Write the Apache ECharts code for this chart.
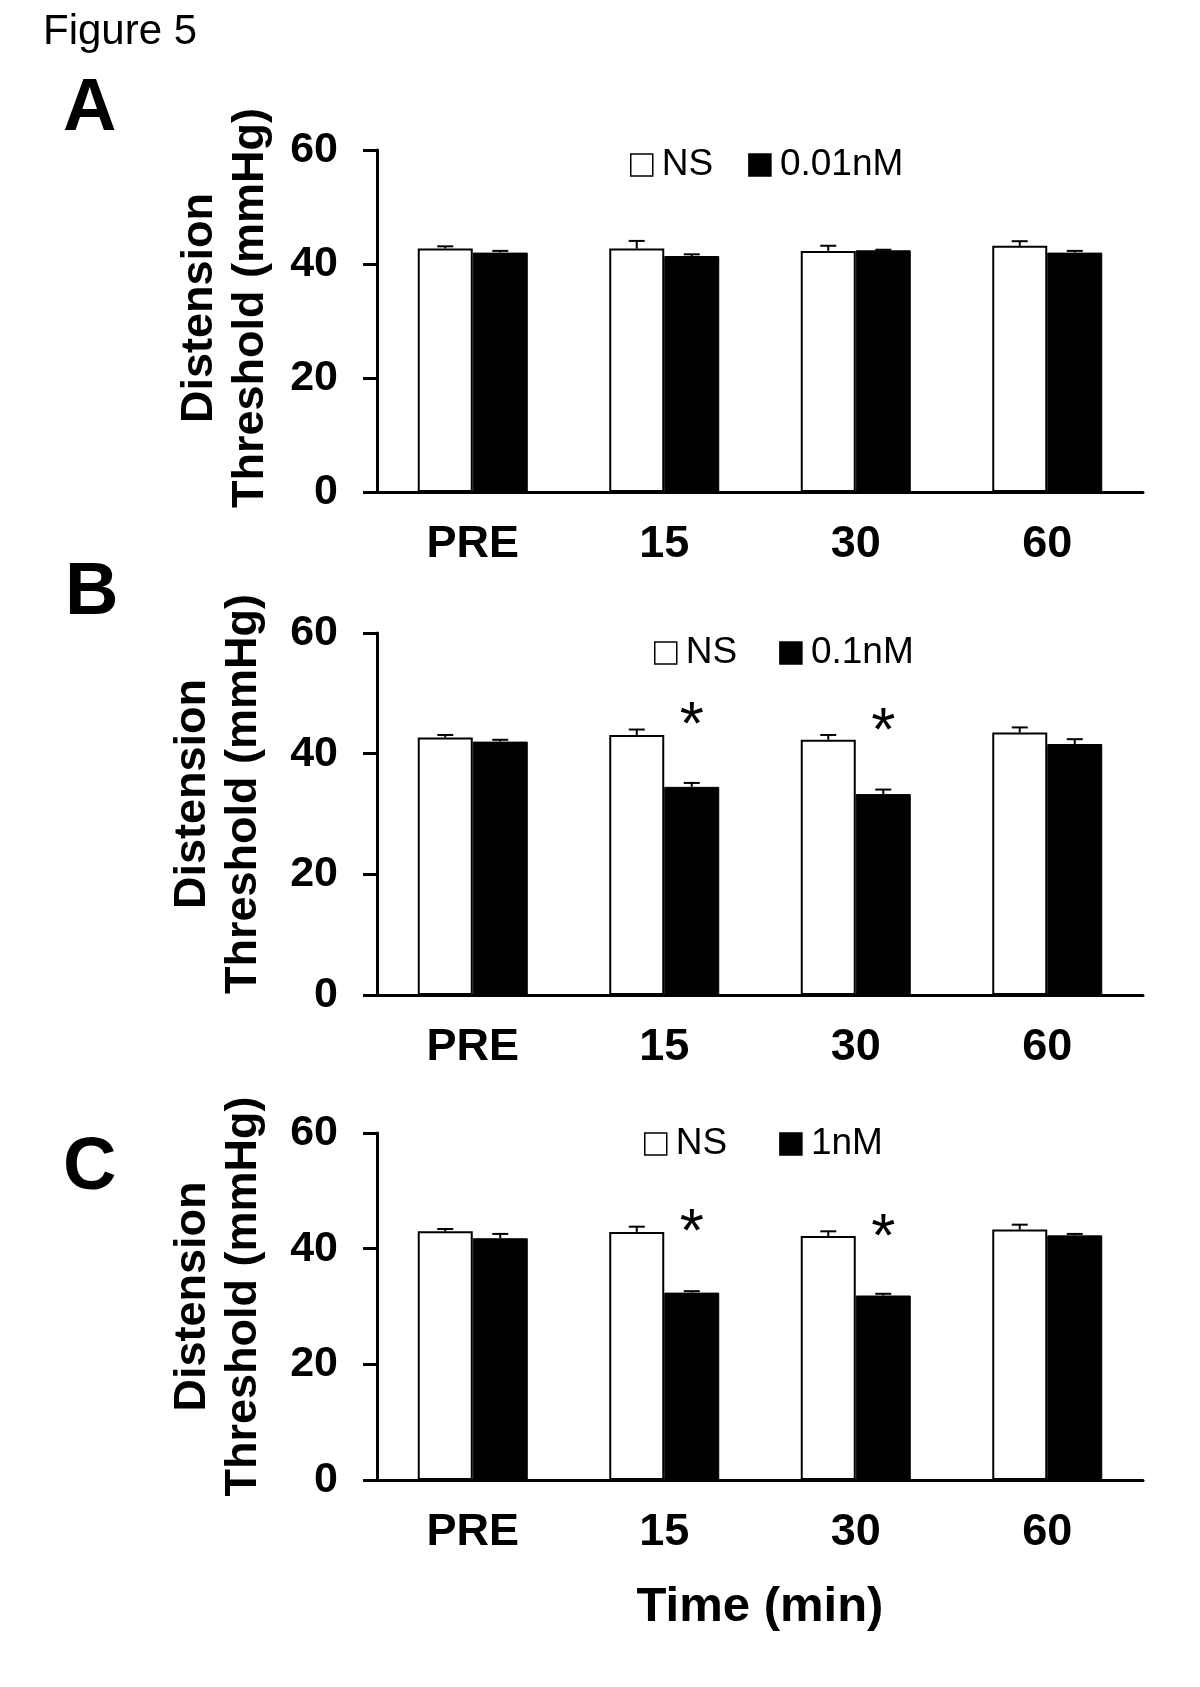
<!DOCTYPE html>
<html>
<head>
<meta charset="utf-8">
<title>Figure 5</title>
<script src="https://cdn.jsdelivr.net/npm/echarts@6/dist/echarts.min.js"></script>
<style>
html, body { margin: 0; padding: 0; background: #fff; }
#chart { width: 1200px; height: 1687px; }
</style>
</head>
<body>
<div id="chart"></div>
<script>
// data (mmHg)
var categories = ['PRE', '15', '30', '60'];
var yTicks = [0, 20, 40, 60];
var panelLetters = ['A', 'B', 'C'];
var controlName = 'NS';
var drugNames = ['0.01nM', '0.1nM', '1nM'];

var nsA = [42.7, 42.7, 42.3, 43.2];
var nsAErr = [0.4, 1.35, 0.9, 0.8];
var drugA = [42.0, 41.4, 42.4, 42.0];
var drugAErr = [0.3, 0.3, 0.1, 0.3];

var nsB = [42.7, 43.1, 42.3, 43.5];
var nsBErr = [0.4, 0.9, 0.8, 0.85];
var drugB = [42.0, 34.5, 33.3, 41.6];
var drugBErr = [0.3, 0.65, 0.75, 0.8];

var nsC = [43.0, 42.9, 42.2, 43.3];
var nsCErr = [0.4, 0.9, 0.8, 0.85];
var drugC = [41.8, 32.4, 31.9, 42.3];
var drugCErr = [0.75, 0.25, 0.3, 0.25];

// significance marks over the drug bar: [category index, height of the * in mmHg]
var starsA = [];
var starsB = [[1, 46.4], [2, 45.4]];
var starsC = [[1, 44.7], [2, 43.8]];

var panels = [
    {ns: nsA, nsErr: nsAErr, drug: drugA, drugErr: drugAErr, stars: starsA},
    {ns: nsB, nsErr: nsBErr, drug: drugB, drugErr: drugBErr, stars: starsB},
    {ns: nsC, nsErr: nsCErr, drug: drugC, drugErr: drugCErr, stars: starsC}
];

// layout (pixels)
var FONT = '"Liberation Sans", Arial, sans-serif';
var gridTops = [150, 633, 1133];
var gridHeights = [342, 362, 347];
var nameGaps = [101, 108, 108];
var nameShift = [26, 40, 20];      // pushes the rotated axis title upward
var legendLefts = [630, 654, 644];
var legendGaps = [35, 42, 52];
var legendCenters = [165, 653, 1144];
var letterPos = [[63, 110], [65, 594], [63, 1169]];
var BAR_W = 55;

var chart = echarts.init(document.getElementById('chart'));

function errorBarItem(side) {
    return function (params, api) {
        var idx = api.value(0);
        var top = api.coord([idx, api.value(1) + api.value(2)]);
        var base = api.coord([idx, api.value(1)]);
        var x = base[0] + side * BAR_W / 2;
        var style = {stroke: '#000', lineWidth: 2};
        return {
            type: 'group',
            children: [
                {type: 'line', shape: {x1: x, y1: base[1], x2: x, y2: top[1]}, style: style},
                {type: 'line', shape: {x1: x - 8, y1: top[1], x2: x + 8, y2: top[1]}, style: style}
            ]
        };
    };
}

function starItem(params, api) {
    var p = api.coord([api.value(0), api.value(1)]);
    return {
        type: 'text',
        x: p[0] + BAR_W / 2,
        y: p[1] + 12,
        style: {text: '*', font: '62px ' + FONT, fill: '#000', align: 'center', verticalAlign: 'middle'}
    };
}

var grids = [], xAxes = [], yAxes = [], series = [], legends = [], graphics = [];

graphics.push({
    type: 'text', left: 43, top: 11,
    style: {text: 'Figure 5', font: '42px ' + FONT, fill: '#000'}
});

panels.forEach(function (p, i) {
    grids.push({left: 377, right: 57, top: gridTops[i], height: gridHeights[i]});
    xAxes.push({
        type: 'category',
        gridIndex: i,
        data: categories,
        axisLine: {lineStyle: {color: '#000', width: 3}},
        axisTick: {show: false},
        axisLabel: {color: '#000', fontSize: 45, fontWeight: 'bold', fontFamily: FONT, margin: 30},
        name: i === 2 ? 'Time (min)' : '',
        nameLocation: 'middle',
        nameGap: 103,
        nameTextStyle: {color: '#000', fontSize: 49, fontWeight: 'bold', fontFamily: FONT}
    });
    yAxes.push({
        type: 'value',
        gridIndex: i,
        min: yTicks[0],
        max: yTicks[yTicks.length - 1],
        interval: yTicks[1] - yTicks[0],
        splitLine: {show: false},
        axisLine: {show: true, lineStyle: {color: '#000', width: 3}},
        axisTick: {show: true, length: 14, lineStyle: {color: '#000', width: 3}},
        axisLabel: {color: '#000', fontSize: 43, fontWeight: 'bold', fontFamily: FONT, margin: 39},
        name: 'Distension\nThreshold (mmHg)',
        nameLocation: 'middle',
        nameRotate: 90,
        nameGap: nameGaps[i],
        nameTextStyle: {
            color: '#000', fontSize: 45, fontWeight: 'bold', fontFamily: FONT,
            lineHeight: 51, padding: [0, 0, 0, nameShift[i]]
        }
    });

    series.push({
        name: controlName,
        type: 'bar',
        xAxisIndex: i, yAxisIndex: i,
        barWidth: BAR_W,
        barGap: '0%',
        itemStyle: {color: '#fff', borderColor: '#000', borderWidth: 2},
        data: p.ns
    });
    series.push({
        name: drugNames[i],
        type: 'bar',
        xAxisIndex: i, yAxisIndex: i,
        barWidth: BAR_W,
        barGap: '0%',
        itemStyle: {color: '#000', borderColor: '#000', borderWidth: 1},
        data: p.drug
    });
    series.push({
        type: 'custom',
        xAxisIndex: i, yAxisIndex: i,
        z: 5,
        renderItem: errorBarItem(-1),
        encode: {x: 0, y: 1},
        data: p.ns.map(function (v, k) { return [k, v, p.nsErr[k]]; })
    });
    series.push({
        type: 'custom',
        xAxisIndex: i, yAxisIndex: i,
        z: 5,
        renderItem: errorBarItem(1),
        encode: {x: 0, y: 1},
        data: p.drug.map(function (v, k) { return [k, v, p.drugErr[k]]; })
    });
    series.push({
        type: 'custom',
        xAxisIndex: i, yAxisIndex: i,
        z: 6,
        renderItem: starItem,
        encode: {x: 0, y: 1},
        data: p.stars
    });

    legends.push({
        data: [controlName, drugNames[i]],
        left: legendLefts[i],
        top: legendCenters[i] - 19,
        padding: 0,
        icon: 'rect',
        itemWidth: 22,
        itemHeight: 22,
        itemGap: legendGaps[i],
        selectedMode: false,
        itemStyle: {borderColor: '#000', borderWidth: 1.5},
        textStyle: {color: '#000', fontSize: 37, fontFamily: FONT, lineHeight: 38, padding: [0, 0, 0, 4]}
    });

    graphics.push({
        type: 'text',
        x: letterPos[i][0],
        y: letterPos[i][1],
        style: {text: panelLetters[i], font: 'bold 74px ' + FONT, fill: '#000', verticalAlign: 'middle'}
    });
});

chart.setOption({
    animation: false,
    backgroundColor: '#fff',
    grid: grids,
    xAxis: xAxes,
    yAxis: yAxes,
    legend: legends,
    series: series,
    graphic: graphics
});
</script>
</body>
</html>
